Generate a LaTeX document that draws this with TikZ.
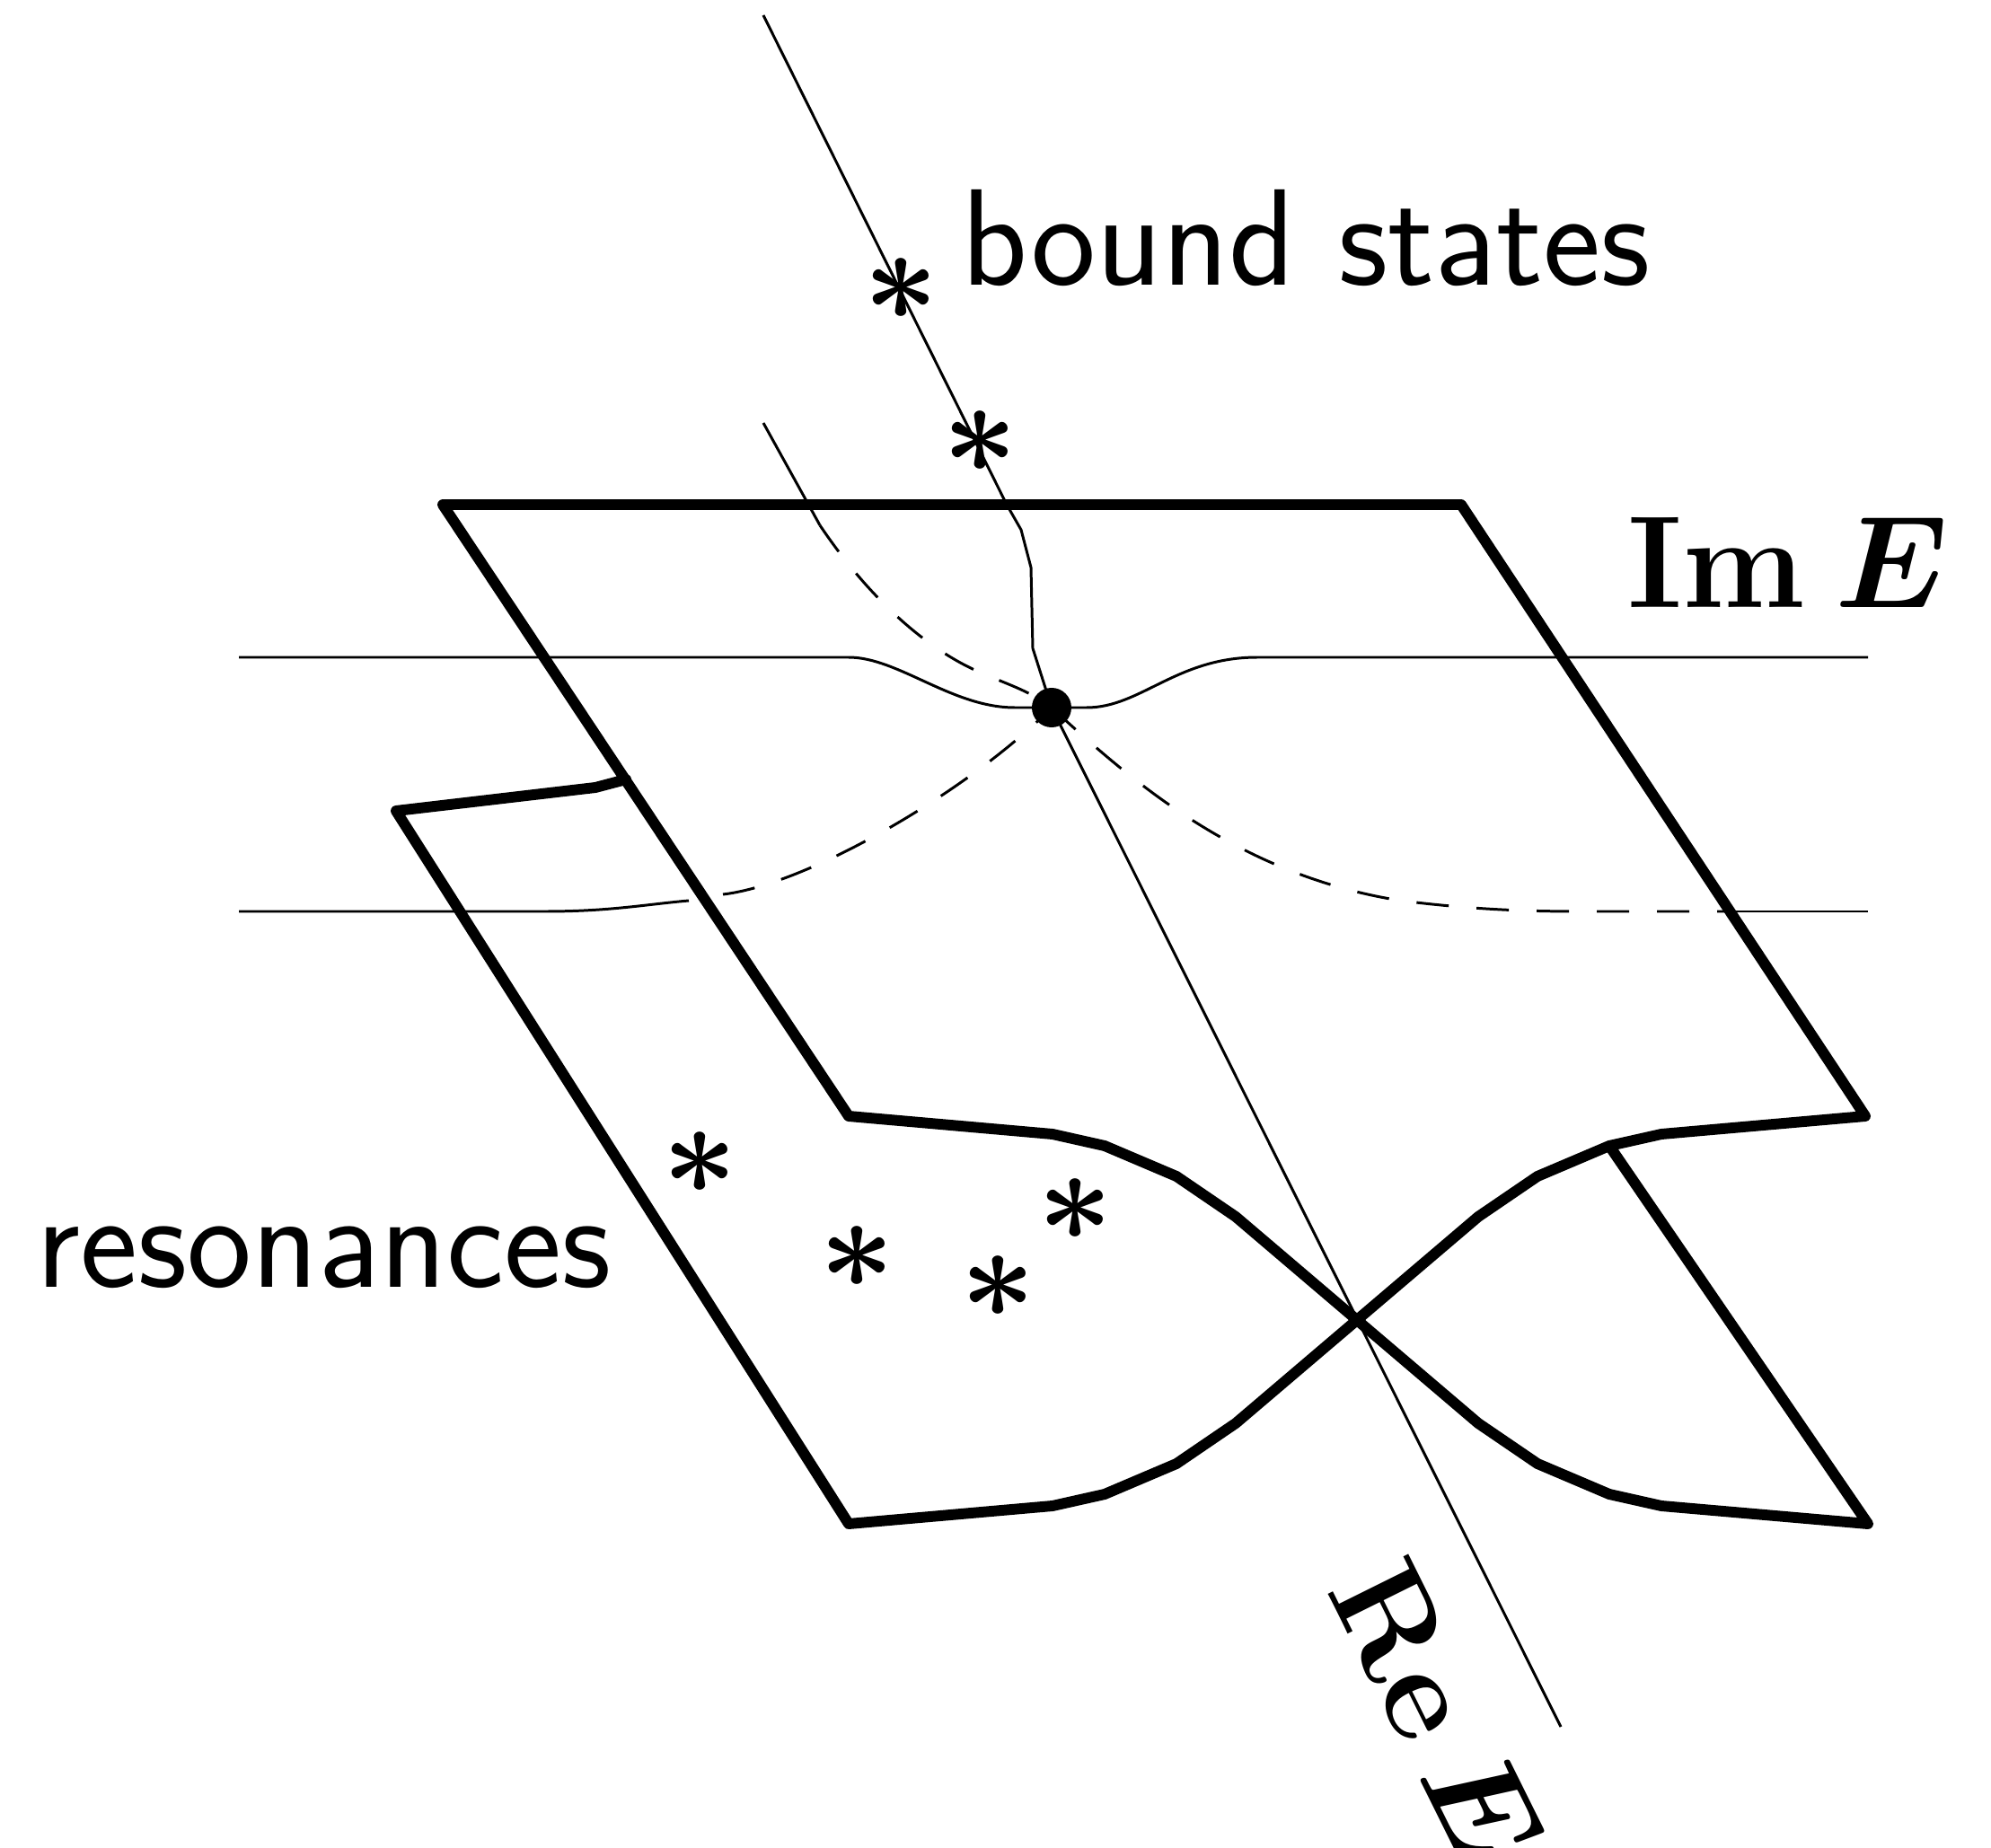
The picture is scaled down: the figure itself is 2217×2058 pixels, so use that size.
\RequirePackage{fix-cm}
\documentclass[tikz,border=0pt]{standalone}
\usepackage{amsmath}
\usepackage{bm}
\begin{document}
\begin{tikzpicture}[x=0.01cm,y=-0.01cm,
  sheet/.style={line width=3.4pt,line join=round,line cap=round},
  thinline/.style={line width=0.85pt},
  hidden/.style={thinline,dash pattern=on 0.36cm off 0.31cm},
  lbl/.style={inner sep=0pt,font=\fontsize{41.5}{50}\selectfont},
  sflbl/.style={inner sep=0pt,font=\fontsize{43.5}{52}\selectfont\sffamily},
  pole/.style={inner sep=0pt,font=\fontsize{41.5}{50}\selectfont}]
\useasboundingbox (0,0) rectangle (2217,2058);

% sheets
\draw[sheet] (697,868) -- (663,877) -- (441,903) -- (945,1697)
  -- (1172,1677) -- (1230,1664) -- (1310,1630) -- (1376,1585) -- (1511,1470)
  -- (1646,1355) -- (1712,1310) -- (1792,1276) -- (1850,1263) -- (2077,1243)
  -- (1627,562) -- (493,562) -- (945,1243)
  -- (1172,1263) -- (1230,1276) -- (1310,1310) -- (1376,1355) -- (1511,1470)
  -- (1646,1585) -- (1712,1630) -- (1792,1664) -- (1850,1677) -- (2080,1697)
  -- (1792,1276);

% branch point
\node[circle,fill,inner sep=0pt,minimum size=0.44cm] (bp) at (1171,788) {};

% real axis
\draw[thinline] (850,17) -- (1121,562) -- (1137,590) -- (1148,632) -- (1150,722) -- (bp.center);
\draw[thinline] (bp.center) -- (1738,1923);

% upper horizontal line
\draw[thinline] (266,732) -- (945,732) .. controls (1000,732) and (1060,788) .. (1130,788)
  -- (1210,788) .. controls (1270,788) and (1310,732) .. (1400,732) -- (2080,732);

% left curve
\draw[thinline] (850,471) -- (913,585);
\draw[hidden] (913,585) .. controls (960,655) and (1020,715) .. (1083,745)
  .. controls (1120,762) and (1145,768) .. (bp.center);

% lower horizontal line
\draw[thinline] (266,1015) -- (607,1015) .. controls (680,1015) and (720,1007) .. (767,1003);
\draw[hidden] (805,996) .. controls (900,985) and (1080,880) .. (bp.center);
\draw[hidden] (bp.center) .. controls (1260,870) and (1380,975) .. (1560,1003)
  .. controls (1640,1013) and (1700,1015) .. (1760,1015) -- (1927,1015);
\draw[thinline] (1927,1015) -- (2080,1015);

% poles
\node[pole] (b1) at (1003,322) {$\bm{\ast}$};
\node[pole] (b2) at (1091,492) {$\bm{\ast}$};
\node[pole] (r1) at (779,1295) {$\bm{\ast}$};
\node[pole] (r2) at (954,1400) {$\bm{\ast}$};
\node[pole] (r3) at (1111,1433) {$\bm{\ast}$};
\node[pole] (r4) at (1197,1347) {$\bm{\ast}$};

% labels
\node[sflbl,anchor=base west] (bs) at (1070,318) {bound states};
\node[sflbl,anchor=base west] (res) at (40,1433) {resonances};
\node[lbl,anchor=base west] (im) at (1812,677) {$\mathbf{Im}\mskip4mu\bm{E}$};
\node[lbl,anchor=base west,rotate=-63.6] (re) at (1476,1770) {$\mathbf{Re}\mskip4mu\bm{E}$};
\end{tikzpicture}
\end{document}
